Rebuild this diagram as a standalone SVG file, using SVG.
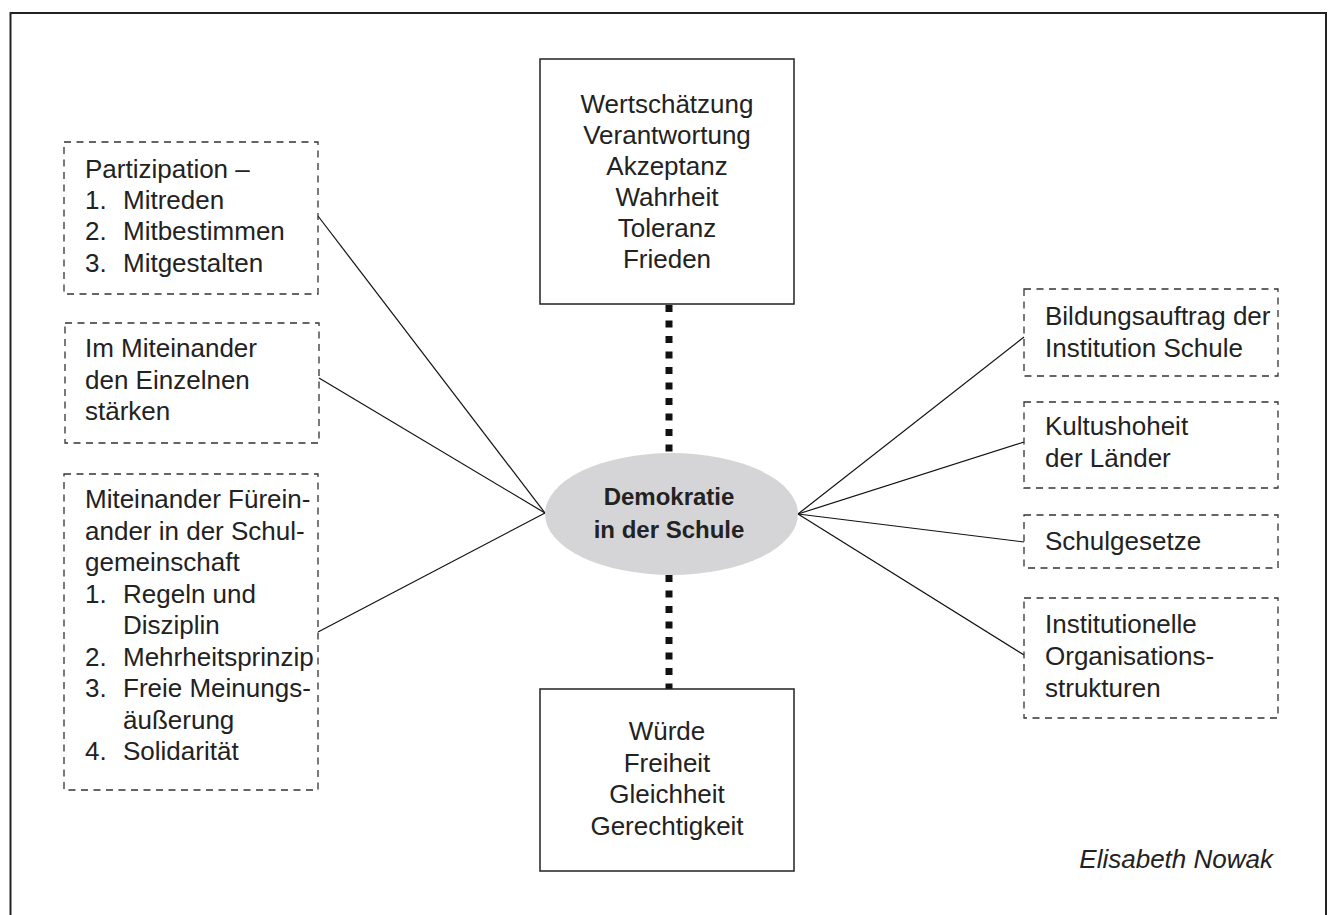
<svg xmlns="http://www.w3.org/2000/svg" width="1331" height="915" viewBox="0 0 1331 915">
  <style>
    .t { font-family: "Liberation Sans", Arial, sans-serif; font-size: 26px; fill: #222; }
    .c { text-anchor: middle; }
    .b { font-weight: bold; font-size: 24px; }
    .solid { fill: none; stroke: #222; stroke-width: 1.5; }
    .dash { fill: none; stroke: #333; stroke-width: 1.3; stroke-dasharray: 7 5.5; }
    .conn { stroke: #111; stroke-width: 1.2; fill: none; }
    .dots { stroke: #111; stroke-width: 7; stroke-dasharray: 7 8.5; fill: none; }
  </style>
  <rect x="0" y="0" width="1331" height="915" fill="#fff"/>
  <path id="frame" d="M10.5 930 V13 H1326 V930" fill="none" stroke="#222" stroke-width="2"/>

  <g id="connectors">
    <line class="dots" x1="669" y1="305" x2="669" y2="453"/>
    <line class="dots" x1="669" y1="575" x2="669" y2="689"/>
    <line class="conn" x1="545" y1="513" x2="318" y2="216"/>
    <line class="conn" x1="545" y1="513" x2="319" y2="378"/>
    <line class="conn" x1="545" y1="513" x2="318" y2="632"/>
    <line class="conn" x1="798" y1="514" x2="1024" y2="337"/>
    <line class="conn" x1="798" y1="514" x2="1024" y2="442"/>
    <line class="conn" x1="798" y1="514" x2="1024" y2="542"/>
    <line class="conn" x1="798" y1="514" x2="1024" y2="655"/>
  </g>

  <g id="values-top">
    <rect class="solid" x="540" y="59" width="254" height="245"/>
    <text class="t c" x="667" y="113">Wertschätzung</text>
    <text class="t c" x="667" y="144">Verantwortung</text>
    <text class="t c" x="667" y="175">Akzeptanz</text>
    <text class="t c" x="667" y="206">Wahrheit</text>
    <text class="t c" x="667" y="237">Toleranz</text>
    <text class="t c" x="667" y="268">Frieden</text>
  </g>

  <g id="center">
    <ellipse cx="671.5" cy="514" rx="126.5" ry="61" fill="#d5d5d7"/>
    <text class="t c b" x="669" y="505">Demokratie</text>
    <text class="t c b" x="669" y="538">in der Schule</text>
  </g>

  <g id="values-bottom">
    <rect class="solid" x="540" y="689" width="254" height="182"/>
    <text class="t c" x="667" y="740">Würde</text>
    <text class="t c" x="667" y="772">Freiheit</text>
    <text class="t c" x="667" y="803">Gleichheit</text>
    <text class="t c" x="667" y="835">Gerechtigkeit</text>
  </g>

  <g id="partizipation">
    <rect class="dash" x="64" y="142" width="254" height="152"/>
    <text class="t" x="85" y="178">Partizipation –</text>
    <text class="t" x="85" y="209">1.</text><text class="t" x="123" y="209">Mitreden</text>
    <text class="t" x="85" y="240">2.</text><text class="t" x="123" y="240">Mitbestimmen</text>
    <text class="t" x="85" y="272">3.</text><text class="t" x="123" y="272">Mitgestalten</text>
  </g>

  <g id="einzelne">
    <rect class="dash" x="65" y="323" width="254" height="120"/>
    <text class="t" x="85" y="357">Im Miteinander</text>
    <text class="t" x="85" y="389">den Einzelnen</text>
    <text class="t" x="85" y="420">stärken</text>
  </g>

  <g id="schulgemeinschaft">
    <rect class="dash" x="64" y="474" width="254" height="316"/>
    <text class="t" x="85" y="508">Miteinander Fürein-</text>
    <text class="t" x="85" y="539.5">ander in der Schul-</text>
    <text class="t" x="85" y="571">gemeinschaft</text>
    <text class="t" x="85" y="602.5">1.</text><text class="t" x="123" y="602.5">Regeln und</text>
    <text class="t" x="123" y="634">Disziplin</text>
    <text class="t" x="85" y="665.5">2.</text><text class="t" x="123" y="665.5">Mehrheitsprinzip</text>
    <text class="t" x="85" y="697">3.</text><text class="t" x="123" y="697">Freie Meinungs-</text>
    <text class="t" x="123" y="728.5">äußerung</text>
    <text class="t" x="85" y="760">4.</text><text class="t" x="123" y="760">Solidarität</text>
  </g>

  <g id="bildungsauftrag">
    <rect class="dash" x="1024" y="289" width="254" height="87"/>
    <text class="t" x="1045" y="325">Bildungsauftrag der</text>
    <text class="t" x="1045" y="357">Institution Schule</text>
  </g>

  <g id="kultushoheit">
    <rect class="dash" x="1024" y="402" width="254" height="86"/>
    <text class="t" x="1045" y="435">Kultushoheit</text>
    <text class="t" x="1045" y="467">der Länder</text>
  </g>

  <g id="schulgesetze">
    <rect class="dash" x="1024" y="515" width="254" height="53"/>
    <text class="t" x="1045" y="550">Schulgesetze</text>
  </g>

  <g id="organisation">
    <rect class="dash" x="1024" y="598" width="254" height="120"/>
    <text class="t" x="1045" y="633">Institutionelle</text>
    <text class="t" x="1045" y="665">Organisations-</text>
    <text class="t" x="1045" y="697">strukturen</text>
  </g>

  <text id="author" class="t" x="1273" y="868" text-anchor="end" font-style="italic" font-size="19.5">Elisabeth Nowak</text>
</svg>
